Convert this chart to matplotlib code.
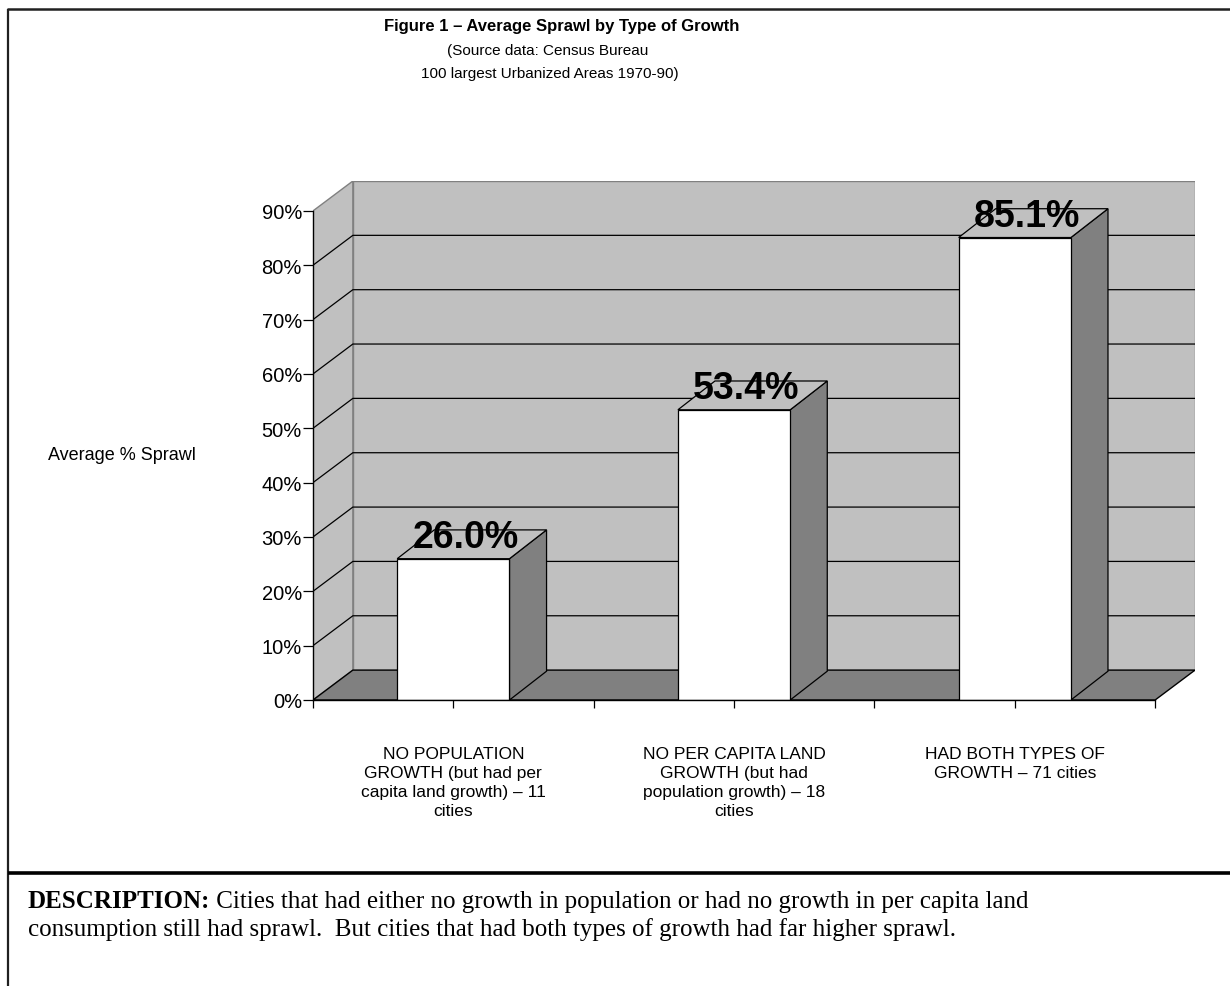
import matplotlib
matplotlib.use("Agg")
import matplotlib.pyplot as plt
from matplotlib.patches import Polygon
from matplotlib.ticker import FixedLocator

# ---- data ----
categories = [
    "NO POPULATION\nGROWTH (but had per\ncapita land growth) – 11\ncities",
    "NO PER CAPITA LAND\nGROWTH (but had\npopulation growth) – 18\ncities",
    "HAD BOTH TYPES OF\nGROWTH – 71 cities",
]
sprawl_pct = [26.0, 53.4, 85.1]
y_ticks = [0, 10, 20, 30, 40, 50, 60, 70, 80, 90]
y_tick_labels = [f"{t}%" for t in y_ticks]

title = "Figure 1 – Average Sprawl by Type of Growth"
subtitle = ["(Source data: Census Bureau", "100 largest Urbanized Areas 1970-90)"]
y_label = "Average % Sprawl"
desc_head = "DESCRIPTION:"
desc_line1 = " Cities that had either no growth in population or had no growth in per capita land"
desc_line2 = "consumption still had sprawl.  But cities that had both types of growth had far higher sprawl."

# ---- style ----
SANS = ["Liberation Sans", "DejaVu Sans"]
SERIF = ["Liberation Serif", "DejaVu Serif"]
WALL = "#C0C0C0"
FLOOR = "#808080"
EDGE = "#808080"

W, H = 1230, 987
fig = plt.figure(figsize=(W / 100, H / 100), dpi=100)
fig.patch.set_facecolor("white")

# page overlay in pixel units for frame lines and free text
page = fig.add_axes([0, 0, 1, 1])
page.set_xlim(0, W)
page.set_ylim(H, 0)
page.axis("off")
page.plot([7, W], [10, 10], color="#202020", lw=1.8, solid_capstyle="butt")
page.plot([8, 8], [10, H], color="#202020", lw=1.6, solid_capstyle="butt")
page.plot([8, W], [874, 874], color="black", lw=2.6, solid_capstyle="butt")

page.text(562, 27, title, ha="center", va="center", fontsize=12, fontweight="bold",
          family=SANS)
page.text(548, 51, subtitle[0], ha="center", va="center", fontsize=11, family=SANS)
page.text(550, 74, subtitle[1], ha="center", va="center", fontsize=11, family=SANS)
page.text(122, 455, y_label, ha="center", va="center", fontsize=13, family=SANS)

head = page.text(28, 908, desc_head, ha="left", va="baseline", fontsize=18,
                 fontweight="bold", family=SERIF)
page.annotate(desc_line1, xy=(1, 0), xycoords=head, ha="left", va="bottom",
              fontsize=18, family=SERIF)
page.text(28, 936, desc_line2, ha="left", va="baseline", fontsize=18, family=SERIF)

# ---- 3-D style column chart ----
DX, DY = 0.142, 5.5          # depth offset of the back wall (category units, percent)
BDX, BDY = 0.132, 5.3        # depth offset of each column
BAR_W = 0.40
YMAX = 90

x0, x1 = -0.5, len(categories) - 0.5
left_px, bottom_px, right_px, top_px = 313, 701, 1195, 182
ax = fig.add_axes([left_px / W, (H - bottom_px) / H,
                   (right_px - left_px) / W, (bottom_px - top_px) / H])
ax.set_xlim(x0, x1 + DX)
ax.set_ylim(0, YMAX + DY)
ax.patch.set_visible(False)

# side wall, back wall, floor
ax.add_patch(Polygon([(x0, 0), (x0, YMAX), (x0 + DX, YMAX + DY), (x0 + DX, DY)],
                     closed=True, facecolor=WALL, edgecolor=EDGE, lw=1.0, zorder=1))
ax.add_patch(Polygon([(x0 + DX, DY), (x1 + DX, DY), (x1 + DX, YMAX + DY), (x0 + DX, YMAX + DY)],
                     closed=True, facecolor=WALL, edgecolor=EDGE, lw=1.0, zorder=1))
ax.add_patch(Polygon([(x0, 0), (x1, 0), (x1 + DX, DY), (x0 + DX, DY)],
                     closed=True, facecolor=FLOOR, edgecolor="black", lw=1.0, zorder=1.5))

# gridlines on both walls
for t in y_ticks[1:-1]:
    ax.plot([x0, x0 + DX, x1 + DX], [t, t + DY, t + DY], color="black", lw=0.9,
            zorder=2, solid_capstyle="butt")

# columns
for i, v in enumerate(sprawl_pct):
    l, r = i - BAR_W / 2, i + BAR_W / 2
    ax.add_patch(Polygon([(r, 0), (r + BDX, BDY), (r + BDX, v + BDY), (r, v)],
                         closed=True, facecolor=FLOOR, edgecolor="black", lw=0.9, zorder=3))
    ax.add_patch(Polygon([(l, v), (r, v), (r + BDX, v + BDY), (l + BDX, v + BDY)],
                         closed=True, facecolor=WALL, edgecolor="black", lw=0.9, zorder=3))
    ax.add_patch(Polygon([(l, 0), (r, 0), (r, v), (l, v)],
                         closed=True, facecolor="white", edgecolor="black", lw=0.9, zorder=3.5))
    ax.text(i + 0.043, v + 2.1, f"{v:.1f}%", ha="center", va="baseline",
            fontsize=27, fontweight="bold", family=SANS, zorder=6)

# axes lines and ticks
for s in ("top", "right"):
    ax.spines[s].set_visible(False)
ax.spines["left"].set_bounds(0, YMAX)
ax.spines["bottom"].set_bounds(x0, x1)
for s in ("left", "bottom"):
    ax.spines[s].set_linewidth(1.0)
    ax.spines[s].set_zorder(5)

ax.set_yticks(y_ticks)
ax.set_yticklabels(y_tick_labels, fontsize=14.5, family=SANS)
ax.tick_params(axis="y", direction="out", length=7, width=0.9, pad=1)

ax.set_xticks(range(len(categories)))
ax.set_xticklabels(categories, fontsize=12.5, family=SANS, linespacing=1.35,
                   multialignment="center", va="top")
ax.xaxis.set_minor_locator(FixedLocator([x0 + k for k in range(len(categories) + 1)]))
ax.tick_params(axis="x", which="both", direction="out", length=6, width=0.9, pad=27)

fig.savefig("out.png", dpi=100, facecolor="white")
